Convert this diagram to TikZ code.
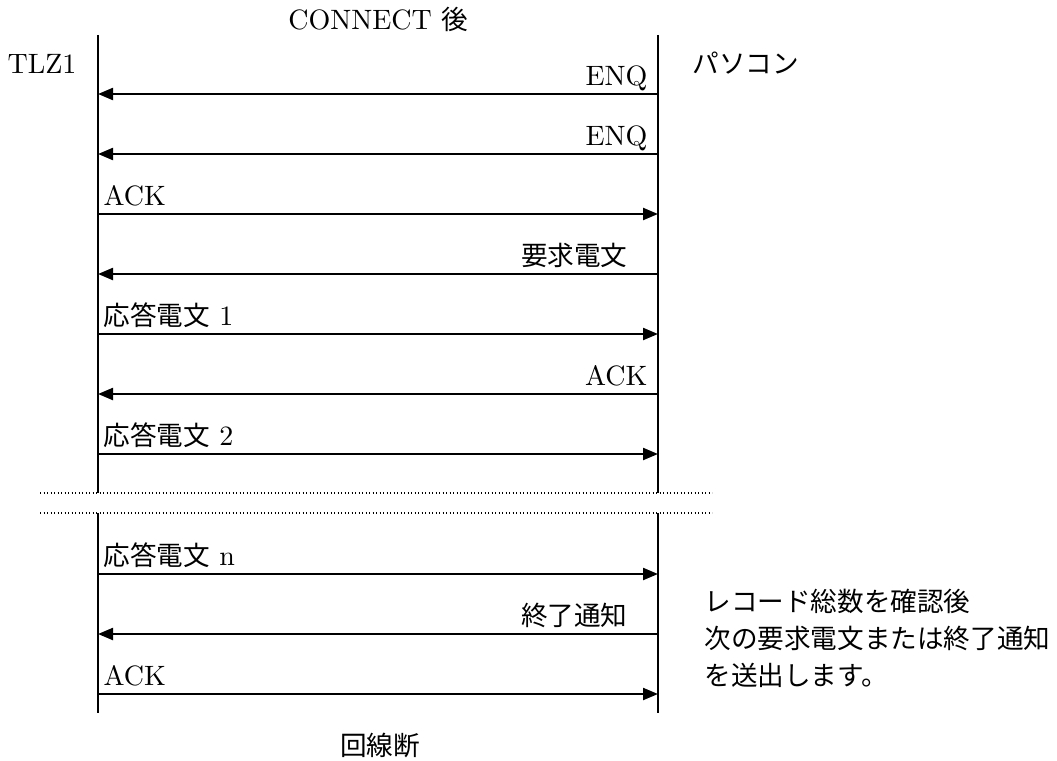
\documentclass[tikz,border=0pt]{standalone}
\usepackage{fontspec}
\newfontfamily\jp{Noto Sans CJK JP}[Scale=0.95]
\usetikzlibrary{arrows.meta}
\tikzset{
  life/.style={line width=1.8pt},
  msg/.style={line width=2.2pt,-{Triangle[length=15pt,width=12pt]}},
  brk/.style={line width=1.3pt,dash pattern=on 1.3pt off 2.2pt},
  txt/.style={inner sep=0pt,scale=2.8,font=\fontsize{10}{13.1}\selectfont},
  lbl/.style={txt,anchor=base west},
  rlbl/.style={txt,anchor=base east},
}
\begin{document}
\begin{tikzpicture}[x=1pt,y=-1pt]
\useasboundingbox (0,0) rectangle (1057,760);
% lifelines
\coordinate (Lt) at (98,35);  \coordinate (Lb1) at (98,493);
\coordinate (Lb2) at (98,513); \coordinate (Lb) at (98,713);
\coordinate (Rt) at (658,35);  \coordinate (Rb1) at (658,493);
\coordinate (Rb2) at (658,513); \coordinate (Rb) at (658,713);
\draw[life] (Lt) -- (Lb1);
\draw[life] (Lb2) -- (Lb);
\draw[life] (Rt) -- (Rb1);
\draw[life] (Rb2) -- (Rb);
% break lines
\coordinate (d1a) at (40,493); \coordinate (d1b) at (712,493);
\coordinate (d2a) at (40,513); \coordinate (d2b) at (712,513);
\draw[brk] (d1a) -- (d1b);
\draw[brk] (d2a) -- (d2b);
% headings
\node[txt] (connect) at (378,19) {CONNECT {\jp 後}};
\node[txt] (tlz) at (42,64) {TLZ1};
\node[txt,anchor=west] (pc) at (692,63) {\jp パソコン};
\node[txt] (end) at (380,745) {\jp 回線断};
% messages
\foreach \y [count=\i] in {94,154,214,274,334,394,454,574,634,694}{
  \coordinate (m\i L) at (98,\y);
  \coordinate (m\i R) at (658,\y);
}
\draw[msg] (m1R) -- (m1L);
\draw[msg] (m2R) -- (m2L);
\draw[msg] (m3L) -- (m3R);
\draw[msg] (m4R) -- (m4L);
\draw[msg] (m5L) -- (m5R);
\draw[msg] (m6R) -- (m6L);
\draw[msg] (m7L) -- (m7R);
\draw[msg] (m8L) -- (m8R);
\draw[msg] (m9R) -- (m9L);
\draw[msg] (m10L) -- (m10R);
% labels
\node[rlbl] (t1) at ([shift={(-10,-9)}]m1R) {ENQ};
\node[rlbl] (t2) at ([shift={(-10,-9)}]m2R) {ENQ};
\node[lbl]  (t3) at ([shift={(5,-9)}]m3L) {ACK};
\node[rlbl] (t4) at ([shift={(-30,-9)}]m4R) {\jp 要求電文};
\node[lbl]  (t5) at ([shift={(5,-9)}]m5L) {{\jp 応答電文} 1};
\node[rlbl] (t6) at ([shift={(-10,-9)}]m6R) {ACK};
\node[lbl]  (t7) at ([shift={(5,-9)}]m7L) {{\jp 応答電文} 2};
\node[lbl]  (t8) at ([shift={(5,-9)}]m8L) {{\jp 応答電文} n};
\node[rlbl] (t9) at ([shift={(-30,-9)}]m9R) {\jp 終了通知};
\node[lbl]  (t10) at ([shift={(5,-9)}]m10L) {ACK};
% note
\node[txt,anchor=north west,align=left] (note) at (704,589)
  {\jp レコード総数を確認後\\\jp 次の要求電文または終了通知\\\jp を送出します。};
\end{tikzpicture}
\end{document}
